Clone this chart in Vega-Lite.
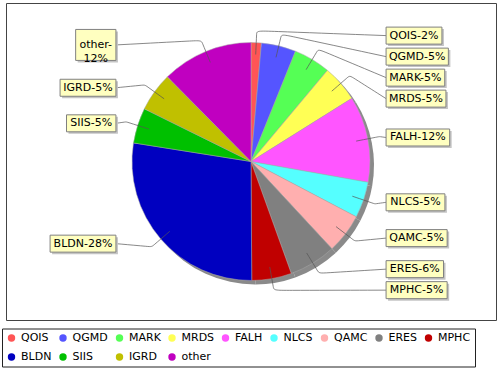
{
  "$schema": "https://vega.github.io/schema/vega-lite/v6.json",
  "width": 490,
  "height": 317,
  "padding": {"left": 1, "top": 3, "right": 5, "bottom": 1},
  "background": "white",
  "config": {
    "view": {"stroke": "#444444", "strokeWidth": 1},
    "font": "DejaVu Sans"
  },
  "data": {
    "values": [
      {"cat": "QOIS", "o": 1, "v": 1.4, "label": "QOIS-2%"},
      {"cat": "QGMD", "o": 2, "v": 4.7, "label": "QGMD-5%"},
      {"cat": "MARK", "o": 3, "v": 5.0, "label": "MARK-5%"},
      {"cat": "MRDS", "o": 4, "v": 5.0, "label": "MRDS-5%"},
      {"cat": "FALH", "o": 5, "v": 11.7, "label": "FALH-12%"},
      {"cat": "NLCS", "o": 6, "v": 4.9, "label": "NLCS-5%"},
      {"cat": "QAMC", "o": 7, "v": 5.4, "label": "QAMC-5%"},
      {"cat": "ERES", "o": 8, "v": 6.4, "label": "ERES-6%"},
      {"cat": "MPHC", "o": 9, "v": 5.4, "label": "MPHC-5%"},
      {"cat": "BLDN", "o": 10, "v": 27.6, "label": "BLDN-28%"},
      {"cat": "SIIS", "o": 11, "v": 4.8, "label": "SIIS-5%"},
      {"cat": "IGRD", "o": 12, "v": 5.3, "label": "IGRD-5%"},
      {"cat": "other", "o": 13, "v": 12.4, "label": "other-\n12%"}
    ]
  },
  "transform": [
    {"joinaggregate": [{"op": "sum", "field": "v", "as": "tot"}]},
    {"window": [{"op": "sum", "field": "v", "as": "cum"}], "sort": [{"field": "o"}], "frame": [null, 0]},
    {"calculate": "2*PI*(datum.cum - datum.v/2)/datum.tot", "as": "mid"},
    {"calculate": "datum.mid < PI ? 1 : -1", "as": "side"},
    {"calculate": "cos(datum.mid)*1.059", "as": "yn"},
    {"calculate": "datum.side*datum.o", "as": "skey"},
    {"window": [{"op": "row_number", "as": "idx"}], "sort": [{"field": "skey"}], "groupby": ["side"]},
    {"calculate": "datum.yn + 0.1765*datum.idx", "as": "t"},
    {"window": [{"op": "min", "field": "t", "as": "tmin"}], "sort": [{"field": "skey"}], "groupby": ["side"], "frame": [null, 0]},
    {"calculate": "datum.tmin - 0.1765*datum.idx", "as": "ly"},
    {"calculate": "split(datum.label, '\\n')[0]", "as": "l1"},
    {"calculate": "length(split(datum.label, '\\n'))", "as": "nl"},
    {"calculate": "11*(0.77*length(replace(datum.l1, regexp('[^MOQGDHNC]','g'), '')) + 0.66*length(replace(datum.l1, regexp('[^ABKRSEP]','g'), '')) + 0.566*length(replace(datum.l1, regexp('[^FL]','g'), '')) + 0.295*length(replace(datum.l1, regexp('[^I]','g'), '')) + 0.636*length(replace(datum.l1, regexp('[^0-9]','g'), '')) + 0.361*length(replace(datum.l1, regexp('[^-]','g'), '')) + 0.95*length(replace(datum.l1, regexp('[^%]','g'), '')) + 0.533*length(replace(datum.l1, regexp('[^a-z]','g'), '')))", "as": "w"},
    {"calculate": "(datum.w + 7)/119", "as": "bw"},
    {"calculate": "(17 + 14*(datum.nl - 1))/119", "as": "bh"},
    {"calculate": "datum.side > 0 ? 1.135 : -1.135 - datum.bw", "as": "bx1"},
    {"calculate": "datum.bx1 + datum.bw", "as": "bx2"},
    {"calculate": "(datum.bx1 + datum.bx2)/2", "as": "bcx"},
    {"calculate": "datum.ly + datum.bh/2", "as": "by1"},
    {"calculate": "datum.ly - datum.bh/2", "as": "by2"},
    {"calculate": "datum.side > 0 ? 1.135 : -1.135", "as": "linkx"}
  ],
  "layer": [
    {
      "mark": {"type": "arc", "outerRadius": 119, "fill": "#8a8a8a", "xOffset": 4, "yOffset": 4},
      "encoding": {
        "theta": {"field": "v", "type": "quantitative", "stack": true},
        "order": {"field": "o", "type": "quantitative"}
      }
    },
    {
      "mark": {"type": "arc", "outerRadius": 119, "stroke": "#a8a8a8", "strokeWidth": 0.5},
      "encoding": {
        "theta": {"field": "v", "type": "quantitative", "stack": true},
        "order": {"field": "o", "type": "quantitative"},
        "color": {
          "field": "cat",
          "type": "nominal",
          "scale": {
            "domain": ["QOIS", "QGMD", "MARK", "MRDS", "FALH", "NLCS", "QAMC", "ERES", "MPHC", "BLDN", "SIIS", "IGRD", "other"],
            "range": ["#ff5555", "#5555ff", "#55ff55", "#ffff55", "#ff55ff", "#55ffff", "#ffafaf", "#808080", "#c00000", "#0000c0", "#00c000", "#c0c000", "#c000c0"]
          },
          "legend": {
            "orient": "none",
            "legendX": -4,
            "legendY": 325.5,
            "direction": "horizontal",
            "columns": 9,
            "gridAlign": "none",
            "title": null,
            "symbolType": "circle",
            "symbolSize": 55,
            "symbolStrokeWidth": 0,
            "labelFont": "DejaVu Sans",
            "labelFontSize": 11,
            "labelColor": "#000000",
            "labelOffset": 4,
            "strokeColor": "#222222",
            "fillColor": "#ffffff",
            "padding": 4,
            "rowPadding": 7,
            "columnPadding": 5.5
          }
        }
      }
    },
    {
      "transform": [
        {"calculate": "0", "as": "k0"},
        {"calculate": "1", "as": "k1"},
        {"calculate": "2", "as": "k2"},
        {"calculate": "3", "as": "k3"},
        {"fold": ["k0", "k1", "k2", "k3"], "as": ["kk", "step"]},
        {"calculate": "datum.step == 0 ? sin(datum.mid)*0.9 : (datum.step == 3 ? datum.linkx : sin(datum.mid)*1.1)", "as": "lx"},
        {"calculate": "datum.step == 0 ? cos(datum.mid)*0.9 : (datum.step == 3 ? datum.ly : cos(datum.mid)*1.1)", "as": "lyy"}
      ],
      "mark": {"type": "line", "interpolate": "basis", "stroke": "#555555", "strokeWidth": 0.7},
      "encoding": {
        "x": {"field": "lx", "type": "quantitative", "scale": {"domain": [-2.0588, 2.0588], "nice": false, "zero": false}, "axis": null},
        "y": {"field": "lyy", "type": "quantitative", "scale": {"domain": [-1.332, 1.332], "nice": false, "zero": false}, "axis": null},
        "detail": {"field": "cat"},
        "order": {"field": "step", "type": "quantitative"}
      }
    },
    {
      "mark": {"type": "rect", "fill": "#c4c4c4", "xOffset": 2, "x2Offset": 2, "yOffset": 2, "y2Offset": 2},
      "encoding": {
        "x": {"field": "bx1", "type": "quantitative", "scale": {"domain": [-2.0588, 2.0588], "nice": false, "zero": false}, "axis": null},
        "x2": {"field": "bx2"},
        "y": {"field": "by1", "type": "quantitative", "scale": {"domain": [-1.332, 1.332], "nice": false, "zero": false}, "axis": null},
        "y2": {"field": "by2"}
      }
    },
    {
      "mark": {"type": "rect", "fill": "#ffffc0", "stroke": "#808080", "strokeWidth": 1},
      "encoding": {
        "x": {"field": "bx1", "type": "quantitative", "scale": {"domain": [-2.0588, 2.0588], "nice": false, "zero": false}, "axis": null},
        "x2": {"field": "bx2"},
        "y": {"field": "by1", "type": "quantitative", "scale": {"domain": [-1.332, 1.332], "nice": false, "zero": false}, "axis": null},
        "y2": {"field": "by2"}
      }
    },
    {
      "mark": {"type": "text", "font": "DejaVu Sans", "fontSize": 11, "color": "#000000", "align": "center", "baseline": "middle", "lineBreak": "\n", "lineHeight": 14},
      "encoding": {
        "x": {"field": "bcx", "type": "quantitative", "scale": {"domain": [-2.0588, 2.0588], "nice": false, "zero": false}, "axis": null},
        "y": {"field": "ly", "type": "quantitative", "scale": {"domain": [-1.332, 1.332], "nice": false, "zero": false}, "axis": null},
        "text": {"field": "label"}
      }
    }
  ]
}
